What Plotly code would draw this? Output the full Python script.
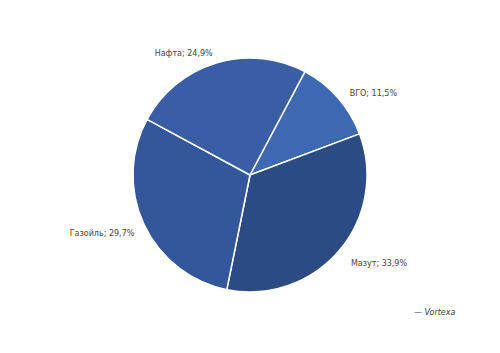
import plotly.graph_objects as go

labels = ["ВГО", "Мазут", "Газойль", "Нафта"]
values = [11.5, 33.9, 29.7, 24.9]
text_labels = ["ВГО; 11,5%", "Мазут; 33,9%", "Газойль; 29,7%", "Нафта; 24,9%"]
colors = ["#3d69b3", "#2c4b85", "#34569a", "#3a5ea5"]

common = dict(
    labels=labels,
    values=values,
    sort=False,
    direction="clockwise",
    rotation=28,
    automargin=False,
    showlegend=False,
)

# invisible slightly larger pie that only carries the outside labels
fig = go.Figure(go.Pie(
    **common,
    text=text_labels,
    textinfo="text",
    textposition="outside",
    marker=dict(colors=["rgba(0,0,0,0)"] * 4, line=dict(width=0)),
    textfont=dict(family="DejaVu Sans", size=8, color="#444444"),
    domain=dict(x=[4 / 500, 1], y=[1 - 306 / 353, 1 - 52 / 353]),
    hoverinfo="skip",
))

# visible pie
fig.add_trace(go.Pie(
    **common,
    textinfo="none",
    marker=dict(colors=colors, line=dict(color="white", width=1.5)),
    domain=dict(x=[0, 1], y=[1 - 292 / 353, 1 - 58 / 353]),
    hoverinfo="label+value",
))

fig.add_annotation(
    text="<i>— Vortexa</i>",
    x=458 / 500, y=1 - 312 / 353, xref="paper", yref="paper",
    xanchor="right", yanchor="middle", showarrow=False,
    font=dict(family="DejaVu Sans", size=8, color="#444444"),
)

fig.update_layout(
    width=500, height=353,
    margin=dict(l=0, r=0, t=0, b=0, autoexpand=False),
    paper_bgcolor="white", plot_bgcolor="white",
)

fig.write_html("out.html")
